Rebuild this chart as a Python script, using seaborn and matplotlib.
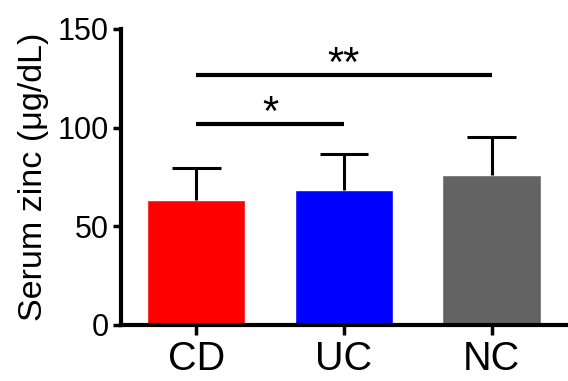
import numpy as np
import pandas as pd
import matplotlib
matplotlib.use('Agg')
import matplotlib.pyplot as plt
import seaborn as sns

groups = ['CD', 'UC', 'NC']
means = [63.5, 68.5, 76.2]
sds = [16.0, 18.2, 19.2]
colors = ['#FF0000', '#0000FF', '#636363']

# significance bars: (left group, right group, y, label)
sig = [(0, 1, 102, '*'), (0, 2, 126.5, '**')]

sns.set_style("ticks")
plt.rcParams['font.family'] = ['Liberation Sans', 'DejaVu Sans']
plt.rcParams['text.color'] = 'black'
plt.rcParams['axes.labelcolor'] = 'black'
plt.rcParams['xtick.color'] = 'black'
plt.rcParams['ytick.color'] = 'black'
plt.rcParams['axes.edgecolor'] = 'black'

df = pd.DataFrame({'group': groups, 'zinc': means})

fig = plt.figure(figsize=(5.68, 3.81), dpi=100)
ax = fig.add_axes([0.213, 0.147, 0.785, 0.777])

sns.barplot(data=df, x='group', y='zinc', hue='group', palette=colors,
            errorbar=None, width=0.665, saturation=1, legend=False, ax=ax)

# upward-only error bars
x = np.arange(len(groups))
tops = np.array(means) + np.array(sds)
ax.vlines(x, means, tops, color='black', lw=2.2)
ax.hlines(tops, x - 0.165, x + 0.165, color='black', lw=2.2)

for a, b, y, lab in sig:
    ax.plot([a, b], [y, y], color='black', lw=3, solid_capstyle='butt')
    ax.text((a + b) / 2, y - 5, lab, ha='center', va='bottom', fontsize=30)

ax.set_ylim(0, 150)
ax.set_xlim(-0.51, 2.51)
ax.set_yticks([0, 50, 100, 150])
ax.set_xlabel('')
ax.set_ylabel('Serum zinc (μg/dL)', fontsize=24.5, labelpad=6)
ax.tick_params(axis='y', labelsize=22, width=2.5, length=6, pad=3)
ax.tick_params(axis='x', labelsize=28.5, width=2.5, length=7, pad=4)
for s in ['left', 'bottom']:
    ax.spines[s].set_linewidth(3)
sns.despine(ax=ax)

fig.savefig('out.png', dpi=100)
